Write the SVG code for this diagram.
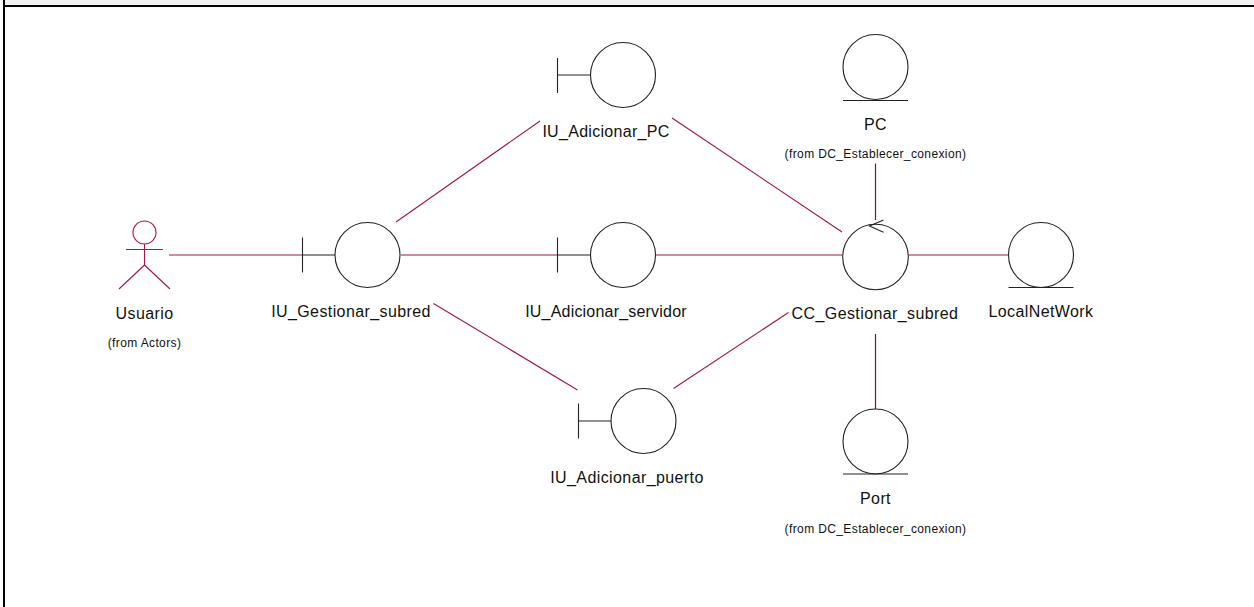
<svg xmlns="http://www.w3.org/2000/svg" width="1254" height="607" viewBox="0 0 1254 607">
<style>
text{font-family:"Liberation Sans",Arial,sans-serif;fill:#111;text-anchor:middle}
.n{font-size:16px;letter-spacing:.4px}
.s{font-size:12px;letter-spacing:.38px}
.o{fill:#fff;stroke:#222;stroke-width:1.1}
.b{fill:none;stroke:#222;stroke-width:1.1}
.c{fill:none;stroke:#a5144a;stroke-width:1.1}
.v{fill:none;stroke:#8a0a3c;stroke-width:1.2}
.f{fill:none;stroke:#000;stroke-width:2}
</style>
<rect width="1254" height="607" fill="#fff"/>
<rect x="5" width="1249" height="5" fill="#f2f2f2"/>
<path class="f" d="M4 0V607M4 6H1254"/>
<g id="connectors">
<path class="c" d="M169 255H303M401 255H557M655 255H842M909 255H1009M396 222L540 121M672 118L842 232M433.500 303.500L577.500 390M673.500 388.500L788.500 312.500"/>
<path class="v" d="M875.500 163.500V220M875.500 334V409"/>
</g>
<g id="usuario">
<circle cx="144.500" cy="232.500" r="11.500" fill="none" stroke="#a5144a" stroke-width="1.100"/>
<path class="c" d="M144.500 244V265M126 249.500H163M144.500 265L119 289M144.500 265L170 289"/>
<text class="n" x="144.500" y="319">Usuario</text>
<text class="s" x="144.500" y="347">(from Actors)</text>
</g>
<g id="iu_gestionar_subred">
<path class="b" d="M302.500 237.500V272.500M303 255H335"/>
<circle class="o" cx="367.500" cy="255" r="32.500"/>
<text class="n" x="351" y="317">IU_Gestionar_subred</text>
</g>
<g id="iu_adicionar_pc">
<path class="b" d="M557.500 58V93M557.500 75H590"/>
<circle class="o" cx="623" cy="75" r="32.500"/>
<text class="n" x="606" y="137" style="letter-spacing:.3px">IU_Adicionar_PC</text>
</g>
<g id="iu_adicionar_servidor">
<path class="b" d="M557.500 237.500V272.500M557.500 255H590"/>
<circle class="o" cx="623" cy="255" r="32.500"/>
<text class="n" x="606" y="317" style="letter-spacing:.2px">IU_Adicionar_servidor</text>
</g>
<g id="iu_adicionar_puerto">
<path class="b" d="M578.500 403.500V438.500M578.500 421H611"/>
<circle class="o" cx="643.500" cy="421" r="32.500"/>
<text class="n" x="627" y="483">IU_Adicionar_puerto</text>
</g>
<g id="pc">
<circle class="o" cx="875.500" cy="67" r="32.500"/>
<path class="b" d="M843 100.500H908"/>
<text class="n" x="875.500" y="130">PC</text>
<text class="s" x="875.500" y="158">(from DC_Establecer_conexion)</text>
</g>
<g id="cc_gestionar_subred">
<circle class="o" cx="875.500" cy="257" r="32.800"/>
<path class="b" d="M883.500 220L869.500 226L883.500 232.300"/>
<text class="n" x="875" y="319">CC_Gestionar_subred</text>
</g>
<g id="localnetwork">
<circle class="o" cx="1041" cy="255" r="32.500"/>
<path class="b" d="M1008.500 287.500H1073.500"/>
<text class="n" x="1041" y="317">LocalNetWork</text>
</g>
<g id="port">
<circle class="o" cx="875.500" cy="441.500" r="32.500"/>
<path class="b" d="M843 474H908"/>
<text class="n" x="875.500" y="504">Port</text>
<text class="s" x="875.500" y="533">(from DC_Establecer_conexion)</text>
</g>
</svg>
